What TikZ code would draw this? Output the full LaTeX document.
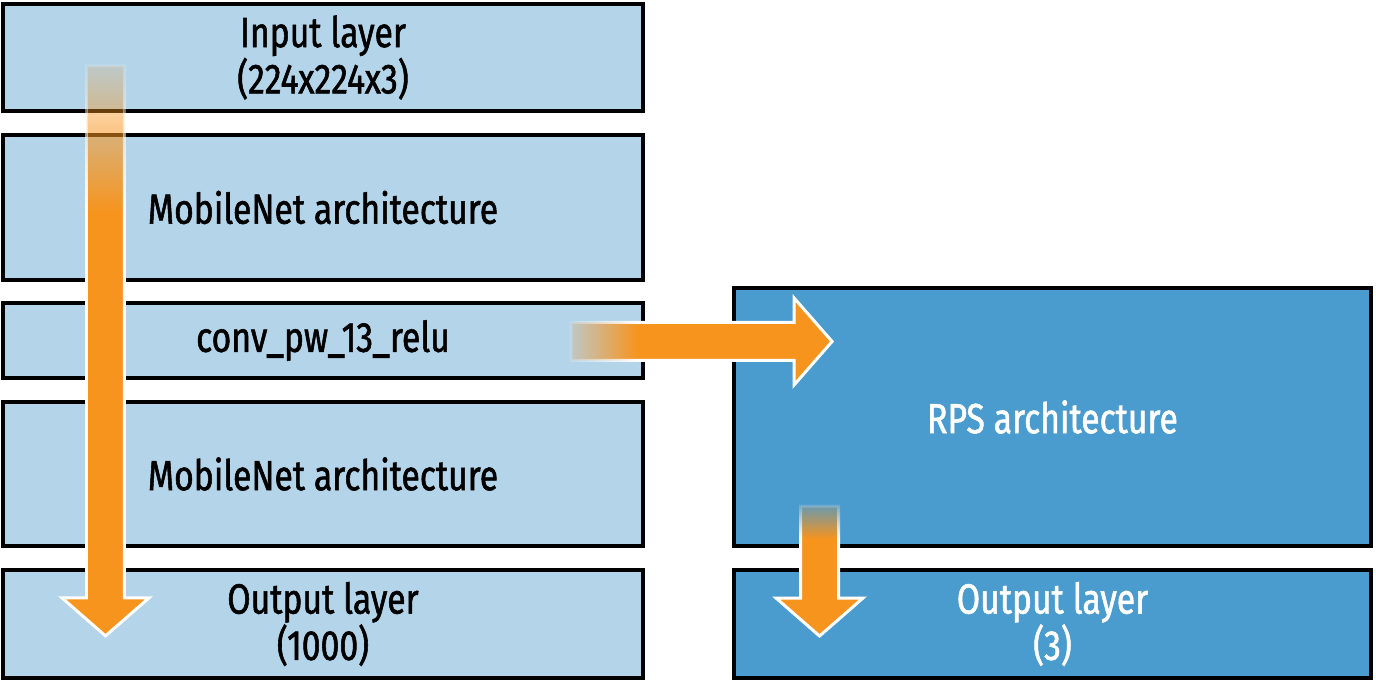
\documentclass[tikz,border=0pt]{standalone}
\usepackage{fontspec}
\setmainfont{Fira Sans}[FakeStretch=0.8,FakeBold=1.3]
\usepackage{tikz}
\usetikzlibrary{calc,fadings}
\definecolor{paleblue}{HTML}{B3D4E9}
\definecolor{rpsblue}{HTML}{4A9BCE}
\definecolor{arrorange}{HTML}{F7941E}
\pgfdeclarehorizontalshading{tailfadeshade}{100bp}{color(0bp)=(black!85); color(25bp)=(black!85); color(38bp)=(white); color(100bp)=(white)}
\pgfdeclarefading{tailfade}{\pgfuseshading{tailfadeshade}}
% block arrow: #1 tail, #2 tip, #3 fading angle
\newcommand{\blockarrow}[3]{%
  \coordinate (#1-base) at ($(#2)!0.76cm!(#1)$);
  \path[fill=arrorange,draw=white,line width=1.7pt,path fading=tailfade,fit fading=true,fading angle=#3]
    ($(#1)!0.38cm!90:(#2)$) -- ($(#1-base)!0.38cm!90:(#2)$) -- ($(#1-base)!0.87cm!90:(#2)$) -- (#2)
    -- ($(#1-base)!0.87cm!-90:(#2)$) -- ($(#1-base)!0.38cm!-90:(#2)$) -- ($(#1)!0.38cm!-90:(#2)$) -- cycle;}

\begin{document}
\begin{tikzpicture}[x=0.02cm,y=-0.02cm,
  layer/.style={draw=black,line width=2.2pt,fill=paleblue,inner sep=0pt,
                minimum width=12.8cm,align=center,font=\fontsize{24}{25}\selectfont},
  rps/.style={layer,fill=rpsblue,text=white,minimum width=12.74cm}]
\useasboundingbox (0,0) rectangle (1376,683);
\node[layer,minimum height=2.14cm] (inp)  at (323,57.5) {Input layer\\(224x224x3)};
\node[layer,minimum height=2.9cm]  (mob1) at (323,207.5) {MobileNet architecture};
\node[layer,minimum height=1.5cm]  (conv) at (323,340.5) {conv\_pw\_13\_relu};
\node[layer,minimum height=2.88cm] (mob2) at (323,474) {MobileNet architecture};
\node[layer,minimum height=2.16cm] (outl) at (323,624) {Output layer\\(1000)};
\node[rps,minimum height=5.16cm]   (net)  at (1052.5,417) {RPS architecture};
\node[rps,minimum height=2.16cm]   (outr) at (1052.5,624) {Output layer\\(3)};
\coordinate (a1) at (105.5,66);  \coordinate (a1t) at (105.5,636);
\coordinate (a2) at (571,341.5); \coordinate (a2t) at (832,341.5);
\coordinate (a3) at (819.5,506); \coordinate (a3t) at (819.5,636);
\blockarrow{a1}{a1t}{-90}
\blockarrow{a2}{a2t}{0}
\blockarrow{a3}{a3t}{-90}
\end{tikzpicture}
\end{document}
